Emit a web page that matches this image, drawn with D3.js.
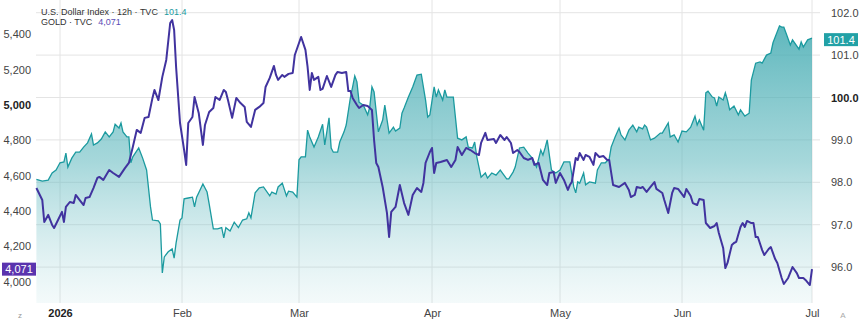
<!DOCTYPE html>
<html>
<head>
<meta charset="utf-8">
<script src="https://cdn.jsdelivr.net/npm/d3@7/dist/d3.min.js"></script>
<style>
  body { margin: 0; background: #fff; }
  svg { display: block; font-family: "Liberation Sans", "DejaVu Sans", sans-serif; }
  .ax text { fill: #444; font-size: 11px; }
  .ax path { display: none; }
</style>
</head>
<body>
<script>
  // x values are days since 1 Jan 2026 (12h bars)
  const dxy = [[-6,98.07],[-4.5,98.03],[-3,98.05],[-2,98.22],[-1,98.29],[0,98.46],[1,98.48],[1.5,98.69],[2,98.36],[3,98.57],[4,98.71],[5,98.71],[6,98.83],[7,98.93],[8,99.14],[8.5,98.88],[9.5,98.93],[10.5,99.02],[11.5,99.19],[12.5,99.07],[13.5,99.19],[14,99.37],[15,99.28],[15.5,99.40],[16,99.19],[17,99.07],[17.5,99.07],[18,98.46],[18.5,98.60],[20,98.81],[21,98.57],[22,98.29],[23,97.42],[23.5,97.11],[25,97.09],[25.5,97.02],[26,95.86],[26.5,96.24],[27.5,96.36],[28.5,96.43],[29,96.21],[29.5,96.57],[30.5,97.11],[31,97.16],[31.5,97.61],[32.5,97.63],[33.5,97.65],[34,97.42],[34.5,97.65],[36,97.96],[37,97.77],[37.5,97.49],[38.5,96.90],[39.5,96.90],[40.5,96.93],[41,96.69],[41.5,96.93],[42.5,96.85],[43.5,97.06],[44.5,96.93],[45.5,97.11],[46.5,97.14],[47,97.28],[47.5,97.16],[48.5,97.75],[49.5,97.87],[50.5,97.89],[52,97.68],[52.5,97.77],[53.5,97.72],[54,97.89],[55,97.98],[56,97.68],[56.5,97.79],[57.5,97.77],[58.5,97.65],[59,98.53],[59.5,98.60],[60.5,98.60],[61,99.23],[61.5,99.07],[62.5,98.83],[63.5,99.07],[64.5,99.37],[65,98.88],[66,99.52],[66.5,98.81],[67,98.71],[68,98.71],[68.5,98.95],[69.5,99.19],[70,99.35],[71,100.01],[71.5,100.25],[72,100.51],[72.5,100.37],[73,99.89],[74,99.82],[75,99.59],[75.5,99.78],[76,100.25],[76.5,100.13],[77.5,99.19],[78.5,99.47],[79,99.82],[80,99.16],[81,99.30],[81.5,99.21],[82.5,99.28],[83,99.63],[83.5,99.75],[84.5,100.01],[85.5,100.25],[86.5,100.53],[87.5,100.55],[88.5,99.94],[89,99.54],[89.5,99.59],[90.5,100.25],[91,100.01],[91.5,100.18],[92.5,99.94],[93,100.18],[93.5,100.01],[95,100.01],[96,99.04],[97,99.00],[98,99.07],[98.5,98.83],[99.5,98.81],[100,98.95],[100.5,98.60],[101.5,98.12],[102.5,98.22],[103,98.10],[104,98.22],[105,98.17],[106,98.29],[107.5,98.08],[108,98.08],[109,98.24],[109.5,98.36],[110.5,98.81],[111.5,98.83],[112.5,98.69],[113.5,98.57],[114.5,98.36],[115.5,98.76],[116,98.64],[116.5,98.81],[117,99.00],[118,98.29],[119,98.22],[120,98.29],[121,98.48],[122.5,98.48],[123.5,97.89],[124,97.75],[124.5,98.01],[125,97.98],[126,98.22],[126.5,97.94],[127.5,98.01],[129,97.98],[129.5,98.29],[130.5,98.46],[131.5,98.46],[132.5,98.55],[133,98.83],[134,99.07],[135,99.28],[135.5,99.12],[136.5,99.00],[137.5,99.23],[138.5,99.35],[139.5,99.19],[140,99.30],[141,99.26],[141.5,99.35],[142,99.30],[143,99.00],[144,99.04],[145.5,99.16],[146,99.16],[147.5,99.40],[148,99.07],[149,99.12],[150,98.95],[151,99.21],[152,99.19],[153,99.30],[154,99.56],[154.5,99.35],[155,99.47],[156,99.23],[156.5,100.11],[157,100.15],[158,100.01],[158.5,99.99],[159,99.80],[159.5,100.01],[160.5,99.94],[161,100.11],[161.5,99.94],[162,99.71],[163,99.80],[164,99.59],[164.5,99.71],[165.5,99.56],[166.5,99.63],[167,100.41],[168,100.81],[169,100.84],[169.5,100.81],[170.5,101.00],[171.5,101.05],[172,101.29],[173.5,101.69],[174,101.66],[174.5,101.66],[175,101.52],[176,101.24],[176.5,101.36],[178,101.14],[178.5,101.31],[179,101.19],[180,101.36],[181,101.4]]

  const gold = [[-6,4530],[-4.5,4462],[-4,4338],[-3,4378],[-2,4321],[-1.5,4304],[-0.5,4349],[0.5,4395],[1,4338],[1.5,4423],[2.5,4451],[3.5,4445],[4,4491],[5,4462],[6,4434],[6.5,4474],[7.5,4479],[8.5,4530],[9.5,4587],[10,4593],[11,4576],[12.5,4632],[13.5,4615],[15,4593],[16.5,4643],[17.5,4672],[18.5,4762],[19.5,4859],[20.5,4842],[21.5,4927],[22.5,4932],[23.5,5040],[24,5085],[25,5028],[26,5159],[27,5255],[28,5464],[28.5,5481],[29,5424],[29.5,5215],[30.5,4898],[31.5,4746],[32,4661],[32.5,4898],[33.5,4932],[34,5045],[35,4955],[36,4774],[36.5,4887],[37.5,4960],[38.5,4983],[39,5045],[40,5028],[41,5085],[41.5,5074],[42,5028],[43,4927],[44,5040],[45,5011],[46,4989],[46.5,4904],[47.5,4876],[48.5,4972],[49.5,4989],[50.5,5011],[51,5102],[52,5153],[53,5221],[53.5,5170],[54,5142],[55,5170],[55.5,5159],[56.5,5176],[57.5,5181],[58,5283],[59,5351],[59.5,5385],[60.5,5312],[61,5215],[61.5,5085],[62,5181],[62.5,5142],[63.5,5159],[64,5085],[64.5,5091],[65.5,5164],[66.5,5102],[67.5,5170],[68,5187],[69,5181],[70,5187],[70.5,5079],[71,5079],[71.5,5040],[72.5,5000],[73,4983],[74,5000],[75,4994],[76,4972],[76.5,4802],[77,4672],[77.5,4649],[78.5,4536],[79.5,4389],[80,4253],[80.5,4395],[81.5,4423],[82.5,4547],[83.5,4445],[84.5,4378],[85.5,4491],[86.5,4530],[87.5,4508],[88,4559],[88.5,4672],[89.5,4734],[90,4757],[90.5,4615],[91,4672],[92,4677],[93.5,4689],[94.5,4649],[95.5,4689],[96,4762],[97,4717],[98,4757],[99,4745],[100,4728],[101,4717],[101.5,4785],[102.5,4842],[103,4802],[104.5,4808],[105,4785],[106,4830],[107,4802],[107.5,4819],[108.5,4785],[109,4728],[110,4745],[110.5,4734],[111.5,4700],[112.5,4689],[113.5,4700],[114,4661],[115,4672],[116,4576],[117,4547],[117.5,4615],[118.5,4621],[119,4559],[120,4615],[121,4576],[122,4519],[122.5,4547],[123,4564],[124,4700],[124.5,4689],[125,4728],[126,4689],[126.5,4717],[127.5,4706],[128.5,4661],[129,4728],[130,4706],[131,4711],[132,4689],[132.5,4689],[133.5,4547],[135,4536],[136.5,4559],[137.5,4519],[138,4479],[139,4491],[139.5,4536],[140.5,4530],[141,4536],[142,4508],[143,4536],[144,4564],[144.5,4525],[146,4502],[146.5,4462],[147.5,4389],[148.5,4502],[149,4530],[150,4525],[151,4496],[151.5,4479],[152,4525],[153,4485],[153.5,4445],[154.5,4434],[155,4468],[156,4462],[156.5,4332],[157.5,4304],[158.5,4315],[159,4332],[159.5,4276],[160.5,4191],[161,4077],[161.5,4106],[162.5,4208],[163,4219],[163.5,4225],[164.5,4310],[165,4332],[165.5,4310],[166,4344],[167,4332],[167.5,4332],[168,4253],[168.5,4253],[169.5,4179],[170,4151],[171,4185],[171.5,4196],[172.5,4128],[173,4106],[174,4021],[174.5,3987],[175.5,4021],[176.5,4083],[177.5,4049],[178,4021],[179,4021],[179.5,4010],[180.5,3981],[181,4071]]

  const monthLabels = ['2026', 'Feb', 'Mar', 'Apr', 'May', 'Jun', 'Jul']
  const dxyTicks = [96, 97, 98, 99, 100, 101, 102]
  const goldTicks = [4000, 4200, 4400, 4600, 4800, 5000, 5200, 5400]

  const W = 860, H = 325
  const day = d => new Date(Date.UTC(2026, 0, 1) + d * 864e5)
  const monthDates = monthLabels.map((m, i) => new Date(Date.UTC(2026, i, 1)))

  // trading-time axis: month anchors are not evenly spaced
  const x = d3.scaleUtc()
    .domain([day(-6.1), ...monthDates])
    .range([36, 60, 182, 299, 432, 560, 682, 812])
  const yR = d3.scaleLinear().domain([96, 102]).range([267.1, 12.7])
  const yL = d3.scaleLinear().domain([4000, 5400]).range([281.7, 34.3])
  const paneBottom = 303

  const svg = d3.select('body').append('svg').attr('width', W).attr('height', H)

  const grad = svg.append('defs').append('linearGradient')
    .attr('id', 'fill').attr('gradientUnits', 'userSpaceOnUse')
    .attr('x1', 0).attr('x2', 0).attr('y1', 20).attr('y2', paneBottom)
  grad.append('stop').attr('offset', 0).attr('stop-color', '#3fa9b0').attr('stop-opacity', 0.85)
  grad.append('stop').attr('offset', 0.5).attr('stop-color', '#5db7bd').attr('stop-opacity', 0.55)
  grad.append('stop').attr('offset', 1).attr('stop-color', '#9fd4d8').attr('stop-opacity', 0.12)

  // grid
  svg.append('g').selectAll('line').data(monthDates).join('line')
    .attr('x1', d => x(d)).attr('x2', d => x(d))
    .attr('y1', 0).attr('y2', paneBottom)
    .attr('stroke', '#e4e4e4')
  svg.append('g').selectAll('line').data(dxyTicks).join('line')
    .attr('x1', 36).attr('x2', 820)
    .attr('y1', d => yR(d)).attr('y2', d => yR(d))
    .attr('stroke', '#e4e4e4')

  const area = d3.area().x(d => x(day(d[0]))).y0(paneBottom).y1(d => yR(d[1]))
  svg.append('path').datum(dxy).attr('d', area).attr('fill', 'url(#fill)')

  const lineR = d3.line().x(d => x(day(d[0]))).y(d => yR(d[1]))
  svg.append('path').datum(dxy).attr('d', lineR)
    .attr('fill', 'none').attr('stroke', '#1b9a9f').attr('stroke-width', 1.3)

  const lineL = d3.line().x(d => x(day(d[0]))).y(d => yL(d[1]))
  svg.append('path').datum(gold).attr('d', lineL)
    .attr('fill', 'none').attr('stroke', '#41339f').attr('stroke-width', 2)
    .attr('stroke-linejoin', 'round')

  // axes
  const right = svg.append('g').attr('class', 'ax').attr('transform', 'translate(831,0)')
    .call(d3.axisRight(yR).tickValues(dxyTicks).tickFormat(d3.format('.1f')).tickSize(0).tickPadding(0))
  right.selectAll('text').filter(d => d === 100).style('font-weight', 'bold').style('fill', '#222')

  const left = svg.append('g').attr('class', 'ax').attr('transform', 'translate(31,0)')
    .call(d3.axisLeft(yL).tickValues(goldTicks).tickFormat(d3.format(',')).tickSize(0).tickPadding(0))
  left.selectAll('text').filter(d => d === 5000).style('font-weight', 'bold').style('fill', '#222')

  const bottom = svg.append('g').attr('class', 'ax').attr('transform', `translate(0,${paneBottom + 3})`)
    .call(d3.axisBottom(x).tickValues(monthDates).tickFormat((d, i) => monthLabels[i]).tickSize(0).tickPadding(3))
  bottom.selectAll('text').filter((d, i) => i === 0).style('font-weight', 'bold').style('fill', '#222')

  // last value badges
  const lastR = dxy[dxy.length - 1][1]
  const lastL = gold[gold.length - 1][1]
  const badge = (bx, cy, w, color, label) => {
    svg.append('rect').attr('x', bx).attr('y', cy - 6.5).attr('width', w).attr('height', 13)
      .attr('fill', color)
    svg.append('text').attr('x', bx + w / 2).attr('y', cy + 4).attr('text-anchor', 'middle')
      .attr('fill', '#fff').attr('font-size', 11).text(label)
  }
  badge(824, yR(lastR) + 1.5, 34, '#22a1a6', d3.format('.1f')(lastR))
  badge(2, yL(lastL), 34, '#5a33ae', d3.format(',')(lastL))

  // legend
  const legend = svg.append('g').attr('font-size', 9).attr('fill', '#333')
  const l1 = legend.append('text').attr('x', 41).attr('y', 15)
  l1.append('tspan').text('U.S. Dollar Index · 12h · TVC')
  l1.append('tspan').attr('dx', 6).attr('fill', '#1b9a9f').text(d3.format('.1f')(lastR))
  const l2 = legend.append('text').attr('x', 41).attr('y', 25)
  l2.append('tspan').text('GOLD · TVC')
  l2.append('tspan').attr('dx', 6).attr('fill', '#5a4bb5').text(d3.format(',')(lastL))

  svg.append('text').attr('x', 18).attr('y', 318).attr('font-size', 8).attr('fill', '#999').text('z')
  svg.append('text').attr('x', 843).attr('y', 318).attr('font-size', 8).attr('fill', '#aaa')
    .attr('text-anchor', 'middle').text('A')
</script>
</body>
</html>
